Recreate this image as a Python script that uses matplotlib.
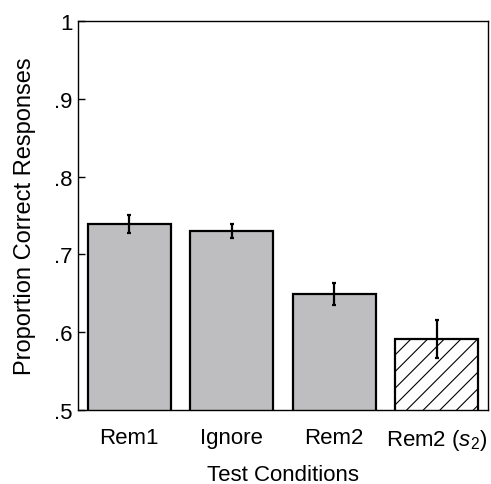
import matplotlib
matplotlib.use("Agg")
import matplotlib.pyplot as plt

# data
conditions = ["Rem1", "Ignore", "Rem2", r"Rem2 ($s_2$)"]
proportions = [0.739, 0.730, 0.649, 0.591]
errors = [0.012, 0.0085, 0.0145, 0.0245]
yticks = [0.5, 0.6, 0.7, 0.8, 0.9, 1.0]
ytick_labels = [".5", ".6", ".7", ".8", ".9", "1"]

plt.rcParams["font.family"] = ["Liberation Sans", "DejaVu Sans"]
plt.rcParams["mathtext.fontset"] = "custom"
plt.rcParams["mathtext.rm"] = "Liberation Sans"
plt.rcParams["mathtext.it"] = "Liberation Sans:italic"
plt.rcParams["hatch.linewidth"] = 0.8

fs = 16

fig = plt.figure(figsize=(4.91, 4.85), dpi=100)
ax = fig.add_axes([0.1589, 0.1526, 0.835, 0.802])

x = range(len(conditions))
bars = ax.bar(x, proportions, width=0.81, color="#bebec0", edgecolor="black",
              linewidth=1.6, zorder=2)
# last condition drawn hatched
bars[-1].set_facecolor("white")
bars[-1].set_hatch("//")

ax.errorbar(x, proportions, yerr=errors, fmt="none", ecolor="black",
            elinewidth=1.6, capsize=1.5, capthick=1.6, zorder=3)

ax.set_xlim(-0.5, 3.5)
ax.set_ylim(0.5, 1.0)
ax.set_yticks(yticks)
ax.set_yticklabels(ytick_labels)
ax.set_xticks(list(x))
ax.set_xticklabels(conditions)
ax.tick_params(axis="y", direction="in", length=5, width=1, pad=4, labelsize=fs)
ax.tick_params(axis="x", length=0, pad=12, labelsize=fs)
for s in ax.spines.values():
    s.set_linewidth(1.0)

ax.set_ylabel("Proportion Correct Responses", fontsize=17, labelpad=13)
ax.set_xlabel("Test Conditions", fontsize=fs, labelpad=9)

fig.savefig("out.png", dpi=100)
